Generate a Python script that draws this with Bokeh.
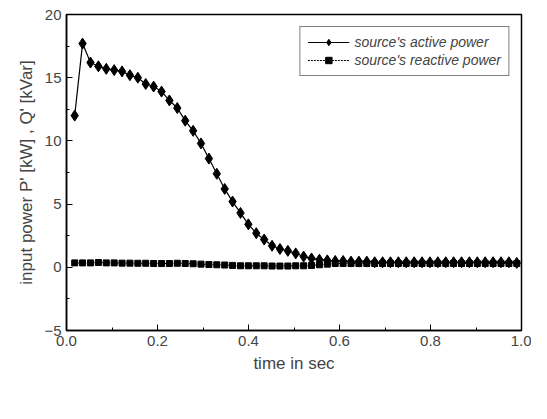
from bokeh.plotting import figure
from bokeh.models import Range1d, FixedTicker, Legend, LegendItem, PrintfTickFormatter
from bokeh.embed import file_html
from bokeh.resources import INLINE

active = [12.0, 17.7, 16.2, 15.9, 15.7, 15.6, 15.5, 15.2, 15.0, 14.5, 14.3, 13.9, 13.2, 12.6,
          11.6, 10.8, 9.8, 8.6, 7.4, 6.2, 5.2, 4.3, 3.4, 2.7, 2.2, 1.7, 1.45, 1.3, 1.1, 0.85,
          0.7, 0.6, 0.55, 0.5, 0.5, 0.45, 0.45, 0.45, 0.4, 0.4, 0.4, 0.4, 0.4, 0.4, 0.4, 0.4,
          0.4, 0.4, 0.4, 0.4, 0.4, 0.4, 0.4, 0.4, 0.4, 0.4, 0.35]
reactive = [0.35, 0.35, 0.35, 0.38, 0.35, 0.35, 0.33, 0.33, 0.32, 0.32, 0.3, 0.3, 0.3, 0.32,
            0.3, 0.28, 0.25, 0.22, 0.2, 0.18, 0.15, 0.12, 0.12, 0.12, 0.12, 0.1, 0.1, 0.1,
            0.12, 0.12, 0.15, 0.2, 0.25, 0.3, 0.3, 0.3, 0.3, 0.3, 0.3, 0.3, 0.3, 0.3, 0.3,
            0.3, 0.3, 0.3, 0.3, 0.3, 0.3, 0.3, 0.3, 0.3, 0.3, 0.3, 0.3, 0.3, 0.3]
t0, dt = 0.018, 0.01735
time = [round(t0 + i * dt, 4) for i in range(len(active))]
x_ticks = [0.0, 0.2, 0.4, 0.6, 0.8, 1.0]
y_ticks = [-5, 0, 5, 10, 15, 20]

FONT = "Liberation Sans"
p = figure(width=531, height=400, output_backend="svg", toolbar_location=None,
           x_range=Range1d(0, 1.0), y_range=Range1d(-5, 20),
           min_border_left=66, min_border_right=10, min_border_top=14, min_border_bottom=70)
p.grid.visible = False
p.outline_line_color = "black"
p.outline_line_width = 1.5

p.xaxis.ticker = FixedTicker(ticks=x_ticks, minor_ticks=[0.1, 0.3, 0.5, 0.7, 0.9])
p.yaxis.ticker = FixedTicker(ticks=y_ticks, minor_ticks=[-2.5, 2.5, 7.5, 12.5, 17.5])
p.xaxis.formatter = PrintfTickFormatter(format="%.1f")
for ax in (p.xaxis[0], p.yaxis[0]):
    ax.major_tick_in = 6; ax.major_tick_out = 0
    ax.minor_tick_in = 3; ax.minor_tick_out = 0
    ax.axis_line_width = 1.5
    ax.major_label_text_font = FONT
    ax.major_label_text_font_size = "15px"
    ax.axis_label_text_font = FONT
    ax.axis_label_text_font_size = "17px"
    ax.axis_label_text_font_style = "normal"
p.xaxis.axis_label = "time in sec"
p.yaxis.axis_label = "input power P' [kW] , Q' [kVar]"

l1 = p.line(time, active, color="black", line_width=1.2)
s1 = p.scatter(time, active, marker="diamond", size=11, color="black")
l2 = p.line(time, reactive, color="black", line_width=1, line_dash="2 1")
s2 = p.scatter(time, reactive, marker="square", size=6, color="black")

leg = Legend(items=[LegendItem(label="source's active power", renderers=[l1, s1]),
                    LegendItem(label="source's reactive power", renderers=[l2, s2])],
             location="top_right", label_text_font=FONT, label_text_font_style="italic",
             label_text_font_size="14px", border_line_color="black", border_line_width=1.5,
             spacing=2, padding=7, margin=12, label_height=16, glyph_height=16, glyph_width=42)
p.add_layout(leg)

open("out.html", "w").write(file_html(p, INLINE))
